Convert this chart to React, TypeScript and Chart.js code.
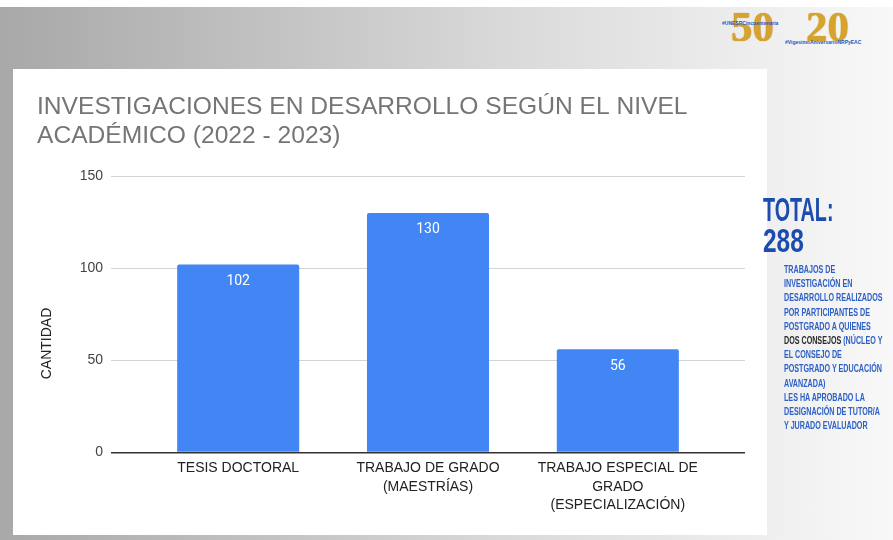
import React, { useEffect, useRef } from 'react';
import { Chart, registerables } from 'chart.js';

Chart.register(...registerables);

// ---- data ----
const titleLines: string[] = ['INVESTIGACIONES EN DESARROLLO SEGÚN EL NIVEL', 'ACADÉMICO (2022 - 2023)'];
const categories: string[][] = [
  ['TESIS DOCTORAL'],
  ['TRABAJO DE GRADO', '(MAESTRÍAS)'],
  ['TRABAJO ESPECIAL DE', 'GRADO', '(ESPECIALIZACIÓN)'],
];
const values: number[] = [102, 130, 56];
const yTicks: number[] = [0, 50, 100, 150];
const yAxisTitle = 'CANTIDAD';
const totalLabel = 'TOTAL:';
const totalValue = '288';
const highlight = 'DOS CONSEJOS';
const noteLines: string[] = [
  'TRABAJOS DE',
  'INVESTIGACIÓN EN',
  'DESARROLLO REALIZADOS',
  'POR PARTICIPANTES DE',
  'POSTGRADO A QUIENES',
  'DOS CONSEJOS (NÚCLEO Y',
  'EL CONSEJO DE',
  'POSTGRADO Y EDUCACIÓN',
  'AVANZADA)',
  'LES HA APROBADO LA',
  'DESIGNACIÓN DE TUTOR/A',
  'Y JURADO EVALUADOR',
];
const logoHashtags: string[] = ['#UNESRCincuentenaria', '#VigesimoAniversarioNRPyEAC'];
const logoNumbers: string[] = ['50', '20'];

const SANS = '"Liberation Sans", Arial, sans-serif';

const valueLabels = {
  id: 'valueLabels',
  afterDatasetsDraw(chart: any) {
    const ctx = chart.ctx;
    const meta = chart.getDatasetMeta(0);
    ctx.save();
    ctx.font = '14px Roboto, "Liberation Sans", sans-serif';
    ctx.fillStyle = '#ffffff';
    ctx.textAlign = 'center';
    ctx.textBaseline = 'middle';
    meta.data.forEach((bar: any, i: number) => {
      const v = chart.data.datasets[0].data[i].y;
      ctx.fillText(String(v), bar.x, bar.y + 17);
    });
    ctx.restore();
  },
};

// y-axis title, centred on the plot plus the category-label band (as in the source)
const yTitlePlugin = {
  id: 'yTitle',
  afterDraw(chart: any) {
    const ctx = chart.ctx;
    const ys = chart.scales.y;
    const xs = chart.scales.x;
    const cy = (chart.chartArea.top + xs.bottom) / 2 - 5;
    ctx.save();
    ctx.translate(ys.left + 10, cy);
    ctx.rotate(-Math.PI / 2);
    ctx.font = `14px ${SANS}`;
    ctx.fillStyle = '#222222';
    ctx.textAlign = 'center';
    ctx.textBaseline = 'middle';
    ctx.fillText(yAxisTitle, 0, 0);
    ctx.restore();
  },
};

function BarChart() {
  const ref = useRef<HTMLCanvasElement | null>(null);
  useEffect(() => {
    if (!ref.current) return;
    const chart = new Chart(ref.current, {
      type: 'bar',
      data: {
        datasets: [
          {
            data: categories.map((_, i) => ({ x: i, y: values[i] })),
            backgroundColor: '#4285F4',
            borderRadius: 2,
            barPercentage: 0.643,
            categoryPercentage: 1,
          },
        ],
      },
      options: {
        animation: false,
        responsive: true,
        maintainAspectRatio: false,
        layout: { padding: { left: 24, right: 22, top: 0, bottom: 14 } },
        plugins: {
          legend: { display: false },
          tooltip: { enabled: false },
          title: {
            display: true,
            text: titleLines,
            align: 'start',
            color: '#757575',
            font: { family: SANS, size: 24.6, weight: 'normal', lineHeight: 1.2 },
            padding: { top: 23, bottom: 25 },
          },
        },
        scales: {
          x: {
            type: 'linear',
            offset: false,
            min: -0.67,
            max: 2.67,
            afterBuildTicks: (s: any) => {
              s.ticks = categories.map((_, i) => ({ value: i }));
            },
            ticks: {
              autoSkip: false,
              maxRotation: 0,
              minRotation: 0,
              padding: 7,
              color: '#222222',
              font: { family: SANS, size: 14, lineHeight: 1.3 },
              callback: (v: any) => categories[Math.round(Number(v))] || '',
            },
            grid: { display: false, drawTicks: false, offset: false },
            border: { display: false },
          },
          y: {
            type: 'linear',
            min: 0,
            max: 150,
            afterBuildTicks: (s: any) => {
              s.ticks = yTicks.map((v) => ({ value: v }));
            },
            afterFit: (s: any) => {
              s.width = 74;
            },
            ticks: {
              padding: 8,
              color: '#444444',
              font: { family: SANS, size: 14 },
            },
            grid: {
              drawTicks: false,
              color: (c: any) => (c.tick && c.tick.value === 0 ? '#333333' : '#d4d4d4'),
              lineWidth: (c: any) => (c.tick && c.tick.value === 0 ? 1.5 : 1),
            },
            border: { display: false },
            title: { display: false },
          },
        },
      },
      plugins: [valueLabels, yTitlePlugin],
    } as any);
    return () => chart.destroy();
  }, []);
  return <canvas ref={ref} />;
}

function NoteLine({ text }: { text: string }) {
  const idx = text.indexOf(highlight);
  if (idx < 0) return <div style={{ whiteSpace: 'nowrap' }}>{text}</div>;
  return (
    <div style={{ whiteSpace: 'nowrap' }}>
      {text.slice(0, idx)}
      <span style={{ color: '#2a2a2a' }}>{highlight}</span>
      {text.slice(idx + highlight.length)}
    </div>
  );
}

export default function App() {
  return (
    <div
      style={{
        position: 'fixed',
        left: 0,
        top: 0,
        width: 893,
        height: 540,
        background: '#ffffff',
        overflow: 'hidden',
        fontFamily: SANS,
      }}
    >
      <div
        style={{
          position: 'absolute',
          left: 0,
          top: 7,
          width: 893,
          height: 533,
          background:
            'linear-gradient(90deg, #a8a8a8 0%, #c2c2c2 30%, #dcdcdc 60%, #efefef 86%, #f8f8f8 100%)',
        }}
      />
      {/* logos */}
      <div
        style={{
          position: 'absolute',
          left: 731,
          top: 5,
          fontFamily: '"Liberation Serif", serif',
          fontWeight: 'bold',
          fontSize: 43,
          lineHeight: '43px',
          color: '#d8a32c',
          textShadow: '0 0 1px #b07d10',
        }}
      >
        {logoNumbers[0]}
      </div>
      <div
        style={{
          position: 'absolute',
          left: 806,
          top: 5,
          fontFamily: '"Liberation Serif", serif',
          fontWeight: 'bold',
          fontSize: 43,
          lineHeight: '43px',
          color: '#d8a32c',
          textShadow: '0 0 1px #b07d10',
        }}
      >
        {logoNumbers[1]}
      </div>
      <div
        style={{
          position: 'absolute',
          left: 722,
          top: 20,
          fontSize: 5,
          fontWeight: 'bold',
          color: '#1f56c4',
          whiteSpace: 'nowrap',
        }}
      >
        {logoHashtags[0]}
      </div>
      <div
        style={{
          position: 'absolute',
          left: 785,
          top: 39,
          fontSize: 5,
          fontWeight: 'bold',
          color: '#1f56c4',
          whiteSpace: 'nowrap',
        }}
      >
        {logoHashtags[1]}
      </div>
      {/* white panel with chart */}
      <div
        style={{
          position: 'absolute',
          left: 13,
          top: 69,
          width: 754,
          height: 466,
          background: '#ffffff',
        }}
      >
        <div style={{ position: 'relative', width: 754, height: 466 }}>
          <BarChart />
        </div>
      </div>
      {/* right side text */}
      <div
        style={{
          position: 'absolute',
          left: 763,
          top: 192,
          fontSize: 34,
          lineHeight: '34px',
          fontWeight: 'bold',
          color: '#1b4cae',
          whiteSpace: 'nowrap',
          transform: 'scaleX(0.58)',
          transformOrigin: 'left top',
        }}
      >
        {totalLabel}
      </div>
      <div
        style={{
          position: 'absolute',
          left: 763,
          top: 223,
          fontSize: 34,
          lineHeight: '34px',
          fontWeight: 'bold',
          color: '#1b4cae',
          whiteSpace: 'nowrap',
          transform: 'scaleX(0.72)',
          transformOrigin: 'left top',
        }}
      >
        {totalValue}
      </div>
      <div
        style={{
          position: 'absolute',
          left: 784,
          top: 262,
          fontSize: 11,
          lineHeight: '14.2px',
          fontWeight: 'bold',
          color: '#2d60c6',
          transform: 'scaleX(0.65)',
          transformOrigin: 'left top',
        }}
      >
        {noteLines.map((t, i) => (
          <NoteLine key={i} text={t} />
        ))}
      </div>
    </div>
  );
}
